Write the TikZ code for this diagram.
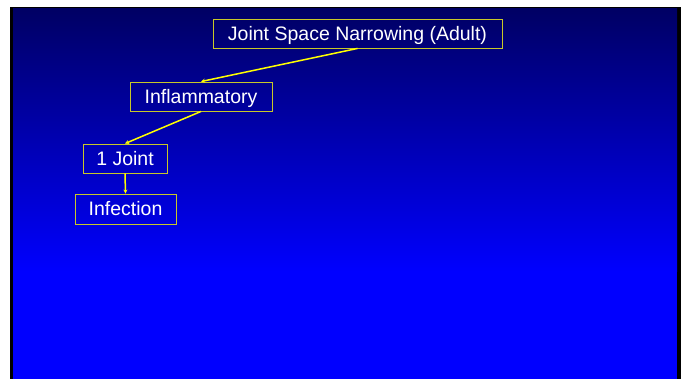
\documentclass[tikz,border=0pt]{standalone}
\usepackage{fontspec}
\setmainfont{Liberation Sans}
\usetikzlibrary{arrows.meta}
\definecolor{navy}{RGB}{0,0,100}
\definecolor{slideblue}{RGB}{0,0,255}
\definecolor{boxline}{RGB}{200,200,40}
\definecolor{arrowyellow}{RGB}{255,255,0}
\tikzset{
  box/.style={draw=boxline, line width=0.9pt, text=white, font=\fontsize{19.5}{21}\selectfont,
    inner sep=0pt, anchor=center, text height=14pt, text depth=0pt},
  link/.style={draw=arrowyellow, line width=1.5pt, -{Stealth[length=4pt,width=4pt]}}
}
\begin{document}
\begin{tikzpicture}[x=1pt,y=-1pt]
\useasboundingbox (0,0) rectangle (685,379);
\fill[white] (0,0) rectangle (685,379);
\fill[black] (10,7) rectangle (681,379);
\shade[top color=navy, bottom color=slideblue] (13,9) rectangle (677,272);
\fill[slideblue] (13,271.5) rectangle (677,379);
\node[box, minimum width=289pt, minimum height=29pt] (jsn) at (357.5,33.5) {Joint Space Narrowing (Adult)};
\node[box, minimum width=142pt, minimum height=29pt] (inf) at (201,96.5) {Inflammatory};
\node[box, minimum width=84pt, minimum height=29pt] (one) at (125,158.5) {1 Joint};
\node[box, minimum width=101pt, minimum height=30pt] (infe) at (125.5,209) {Infection};
\draw[link] (jsn.south) -- (inf.north);
\draw[link] (inf.south) -- (one.north);
\draw[link] (one.south) -- (infe.north);
\end{tikzpicture}
\end{document}
